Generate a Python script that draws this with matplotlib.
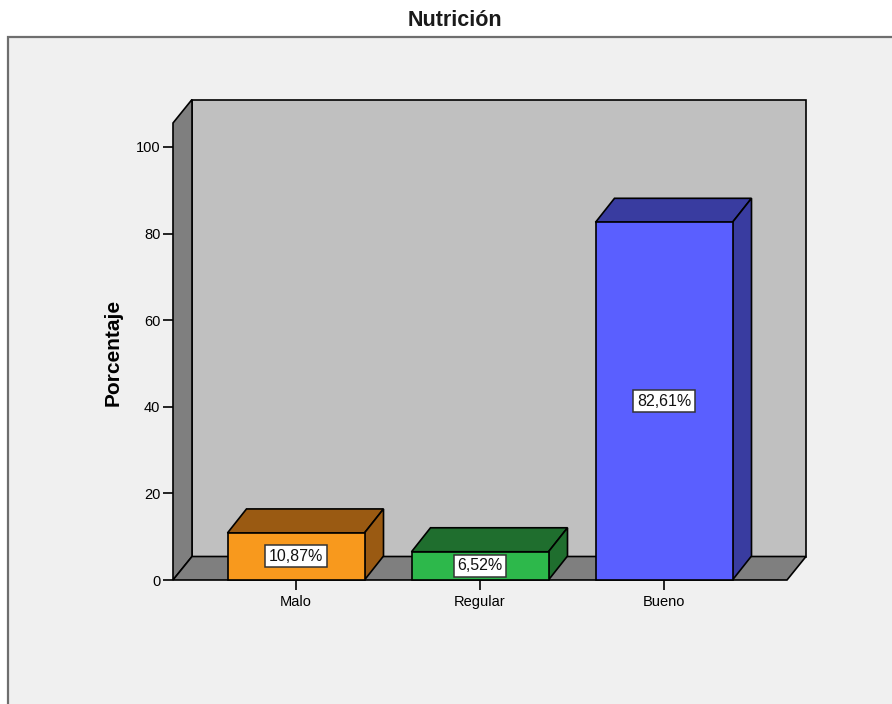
import matplotlib
matplotlib.use("Agg")
import matplotlib.pyplot as plt
from matplotlib.patches import Polygon, Rectangle

plt.rcParams['font.family'] = ['Liberation Sans', 'DejaVu Sans']

# Data
categories = ["Malo", "Regular", "Bueno"]
percentages = [10.87, 6.52, 82.61]
value_labels = ["10,87%", "6,52%", "82,61%"]
yticks = [0, 20, 40, 60, 80, 100]

front_colors = ["#F8991D", "#2DB84B", "#5A5FFF"]
shade_colors = ["#9A5A12", "#1F6E2E", "#393CA0"]

W, H = 892, 704
fig = plt.figure(figsize=(W / 100, H / 100), dpi=100)
fig.patch.set_facecolor("white")

# Light chart panel with a dark frame on the top and left
panel = Rectangle((8 / W, -0.01), 1.02, (H - 37) / H + 0.01, transform=fig.transFigure,
                  facecolor="#F0F0F0", edgecolor="#6E6E6E", linewidth=1.6,
                  zorder=0)
fig.add_artist(panel)

fig.text(455 / W, 1 - 20.5 / H, "Nutrición", ha="center", va="center",
         fontsize=15.5, fontweight="bold", color="#1A1A1A")

# Axes occupies the front plane of the 3D box
ax_left, ax_right = 173, 787
ax_bottom, ax_top = 580, 123
ax = fig.add_axes([ax_left / W, (H - ax_bottom) / H,
                   (ax_right - ax_left) / W, (ax_bottom - ax_top) / H])
ax.set_facecolor("none")
px_per_unit = 4.33
ymax = (ax_bottom - ax_top) / px_per_unit
cat_step = 184.0
x0 = -(296 - ax_left) / cat_step
x1 = 2 + (ax_right - 664) / cat_step
ax.set_xlim(x0, x1)
ax.set_ylim(0, ymax)
for s in ax.spines.values():
    s.set_visible(False)

# depth of the box in data units
ddx = 19 / cat_step
ddy = 23.5 / px_per_unit
edge = dict(edgecolor="black", linewidth=1.2, clip_on=False)

# back wall
ax.add_patch(Polygon([(x0 + ddx, ddy), (x1 + ddx, ddy), (x1 + ddx, ymax + ddy),
                      (x0 + ddx, ymax + ddy)], facecolor="#C0C0C0", zorder=1, **edge))
# left wall
ax.add_patch(Polygon([(x0, 0), (x0 + ddx, ddy), (x0 + ddx, ymax + ddy), (x0, ymax)],
                     facecolor="#7F7F7F", zorder=1, **edge))
# floor
ax.add_patch(Polygon([(x0, 0), (x1, 0), (x1 + ddx, ddy), (x0 + ddx, ddy)],
                     facecolor="#7F7F7F", zorder=1, **edge))

bar_w = 137 / cat_step
bdx = 19 / cat_step
bdy = 24 / px_per_unit
for i, (v, fc, sc, lab) in enumerate(zip(percentages, front_colors, shade_colors, value_labels)):
    l, r = i - bar_w / 2, i + bar_w / 2
    z = 2 + i
    ax.add_patch(Polygon([(l, v), (r, v), (r + bdx, v + bdy), (l + bdx, v + bdy)],
                         facecolor=sc, zorder=z, **edge))
    ax.add_patch(Polygon([(r, 0), (r + bdx, bdy), (r + bdx, v + bdy), (r, v)],
                         facecolor=sc, zorder=z, **edge))
    ax.add_patch(Rectangle((l, 0), bar_w, v, facecolor=fc, zorder=z, **edge))
    ax.text(i, v / 2, lab, ha="center", va="center", fontsize=11.5, zorder=10,
            color="#111111",
            bbox=dict(boxstyle="square,pad=0.22", facecolor="white",
                      edgecolor="#333333", linewidth=1.1))

ax.set_xticks(range(len(categories)))
ax.set_xticklabels(categories, fontsize=10.5)
ax.set_yticks(yticks)
ax.set_yticklabels([str(t) for t in yticks], fontsize=10.5)
ax.tick_params(axis="both", direction="out", length=7, width=1.2, color="black", pad=2)
ax.tick_params(axis="x", pad=4)

ax.set_ylabel("Porcentaje", fontsize=15, fontweight="bold")
ax.yaxis.set_label_coords((123 - ax_left) / (ax_right - ax_left),
                          0.5 - (352 - (ax_bottom + ax_top) / 2) / (ax_bottom - ax_top))

fig.savefig("out.png", dpi=100)
